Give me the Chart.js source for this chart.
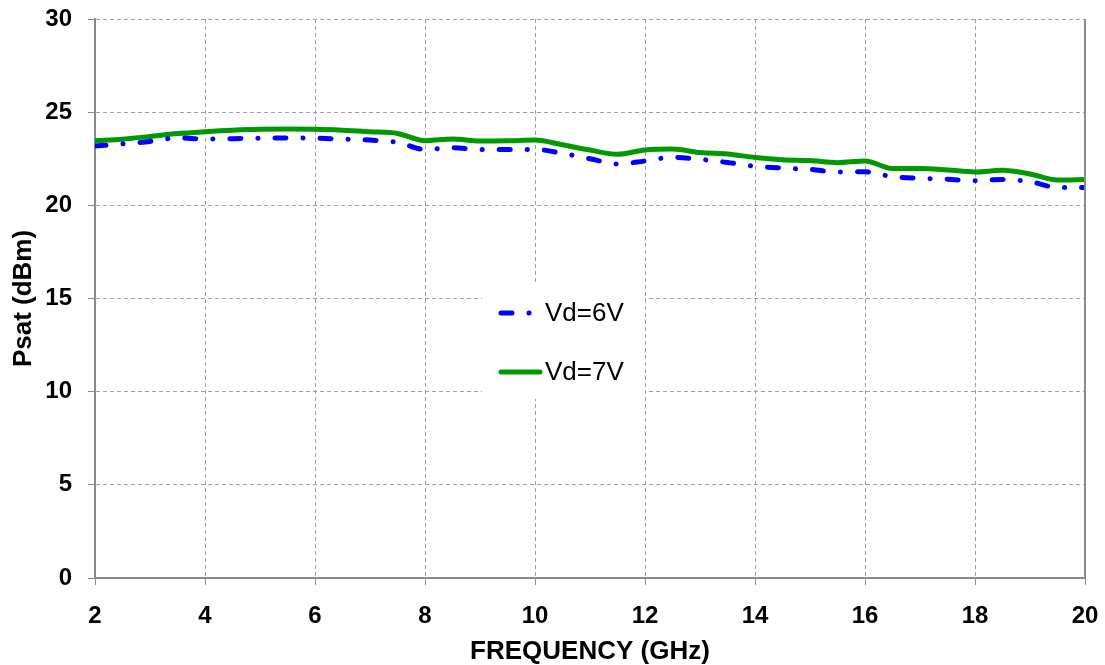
<!DOCTYPE html>
<html>
<head>
<meta charset="utf-8">
<title>Psat vs Frequency</title>
<script src="https://cdn.jsdelivr.net/npm/chart.js@4.4.1/dist/chart.umd.min.js"></script>
<style>
    html, body { margin: 0; padding: 0; background: #fff; }
    #wrap { width: 1105px; height: 665px; position: relative; }
</style>
</head>
<body>
<div id="wrap"><canvas id="chart"></canvas></div>
<script>
// data (GHz / dBm)
const freq = [2, 2.5, 3, 3.5, 4, 4.5, 5, 5.5, 6, 6.5, 7, 7.5, 8, 8.5, 9, 9.5, 10, 10.5, 11, 11.5,
              12, 12.5, 13, 13.5, 14, 14.5, 15, 15.5, 16, 16.5, 17, 17.5, 18, 18.5, 19, 19.5, 20];
const vd6 = [23.18, 23.3, 23.43, 23.62, 23.56, 23.58, 23.6, 23.62, 23.6, 23.56, 23.5, 23.38, 23.0, 23.09, 23.0, 23.0, 23.0, 22.79, 22.5, 22.22,
             22.38, 22.58, 22.47, 22.3, 22.1, 22.0, 21.93, 21.79, 21.8, 21.54, 21.45, 21.4, 21.32, 21.39, 21.27, 20.96, 20.96];
const vd7 = [23.47, 23.55, 23.7, 23.85, 23.95, 24.03, 24.08, 24.09, 24.08, 24.03, 23.95, 23.86, 23.47, 23.56, 23.45, 23.46, 23.5, 23.25, 22.97, 22.74,
             22.97, 23.02, 22.83, 22.75, 22.57, 22.45, 22.4, 22.29, 22.38, 21.98, 21.98, 21.9, 21.79, 21.88, 21.68, 21.36, 21.39];
const seriesNames = ['Vd=6V', 'Vd=7V'];

const FONT = "Arial, 'Liberation Sans', sans-serif";
const GRID = '#a0a0a0';
const AXIS = '#8c8c8c';

function toPoints(ys) {
    return freq.map((f, i) => ({ x: f, y: ys[i] }));
}

// legend box in the middle of the plot + solid right border
const boxLegend = {
    id: 'boxLegend',
    afterDraw(chart) {
        const ctx = chart.ctx;
        const area = chart.chartArea;

        // right border
        ctx.save();
        ctx.strokeStyle = AXIS;
        ctx.lineWidth = 2;
        ctx.beginPath();
        ctx.moveTo(area.right, area.top);
        ctx.lineTo(area.right, area.bottom);
        ctx.stroke();

        // legend
        ctx.fillStyle = '#fff';
        ctx.fillRect(482, 284, 163, 115);
        const rows = [313, 372];
        chart.data.datasets.forEach((ds, i) => {
            const y = rows[i];
            ctx.strokeStyle = ds.borderColor;
            ctx.lineWidth = ds.borderWidth;
            ctx.lineCap = 'round';
            ctx.setLineDash(ds.borderDash || []);
            ctx.beginPath();
            ctx.moveTo(501, y);
            ctx.lineTo(ds.borderDash ? 535 : 540, y);
            ctx.stroke();
            ctx.setLineDash([]);
            ctx.fillStyle = '#000';
            ctx.font = '26px ' + FONT;
            ctx.textAlign = 'left';
            ctx.textBaseline = 'middle';
            ctx.fillText(ds.label, 545, y + 1);
        });
        ctx.restore();
    }
};

new Chart(document.getElementById('chart'), {
    type: 'line',
    data: {
        datasets: [
            {
                label: seriesNames[0],
                data: toPoints(vd6),
                borderColor: '#0000ff',
                borderWidth: 5,
                borderDash: [11, 17, 0.1, 17],
                borderCapStyle: 'round',
                pointRadius: 0,
                cubicInterpolationMode: 'monotone',
                fill: false
            },
            {
                label: seriesNames[1],
                data: toPoints(vd7),
                borderColor: '#009900',
                borderWidth: 5,
                pointRadius: 0,
                cubicInterpolationMode: 'monotone',
                fill: false
            }
        ]
    },
    options: {
        responsive: true,
        maintainAspectRatio: false,
        animation: false,
        layout: { padding: { top: 19, right: 20, left: 0, bottom: 0 } },
        plugins: {
            legend: { display: false },
            tooltip: { enabled: false }
        },
        scales: {
            x: {
                type: 'linear',
                min: 2,
                max: 20,
                afterFit: s => { s.height = 87; s.paddingRight = 0; s.paddingLeft = 0; },
                ticks: {
                    stepSize: 2,
                    padding: 17,
                    color: '#000',
                    maxRotation: 0,
                    font: { family: FONT, size: 24, weight: 'bold' }
                },
                grid: {
                    color: GRID,
                    tickLength: 7,
                    tickColor: AXIS,
                    tickBorderDash: []
                },
                border: { color: AXIS, width: 2, dash: [4, 3] },
                title: {
                    display: true,
                    text: 'FREQUENCY (GHz)',
                    color: '#000',
                    padding: 0,
                    font: { family: FONT, size: 26, weight: 'bold', lineHeight: 1 }
                }
            },
            y: {
                min: 0,
                max: 30,
                afterFit: s => { s.width = 95; s.paddingTop = 0; s.paddingBottom = 0; },
                ticks: {
                    stepSize: 5,
                    padding: 16,
                    color: '#000',
                    font: { family: FONT, size: 24, weight: 'bold' }
                },
                grid: {
                    color: GRID,
                    tickLength: 7,
                    tickColor: AXIS,
                    tickBorderDash: []
                },
                border: { color: AXIS, width: 2, dash: [4, 3] },
                title: {
                    display: true,
                    text: 'Psat (dBm)',
                    color: '#000',
                    padding: { top: 11, bottom: 0 },
                    font: { family: FONT, size: 26, weight: 'bold', lineHeight: 1 }
                }
            }
        }
    },
    plugins: [boxLegend]
});
</script>
</body>
</html>
